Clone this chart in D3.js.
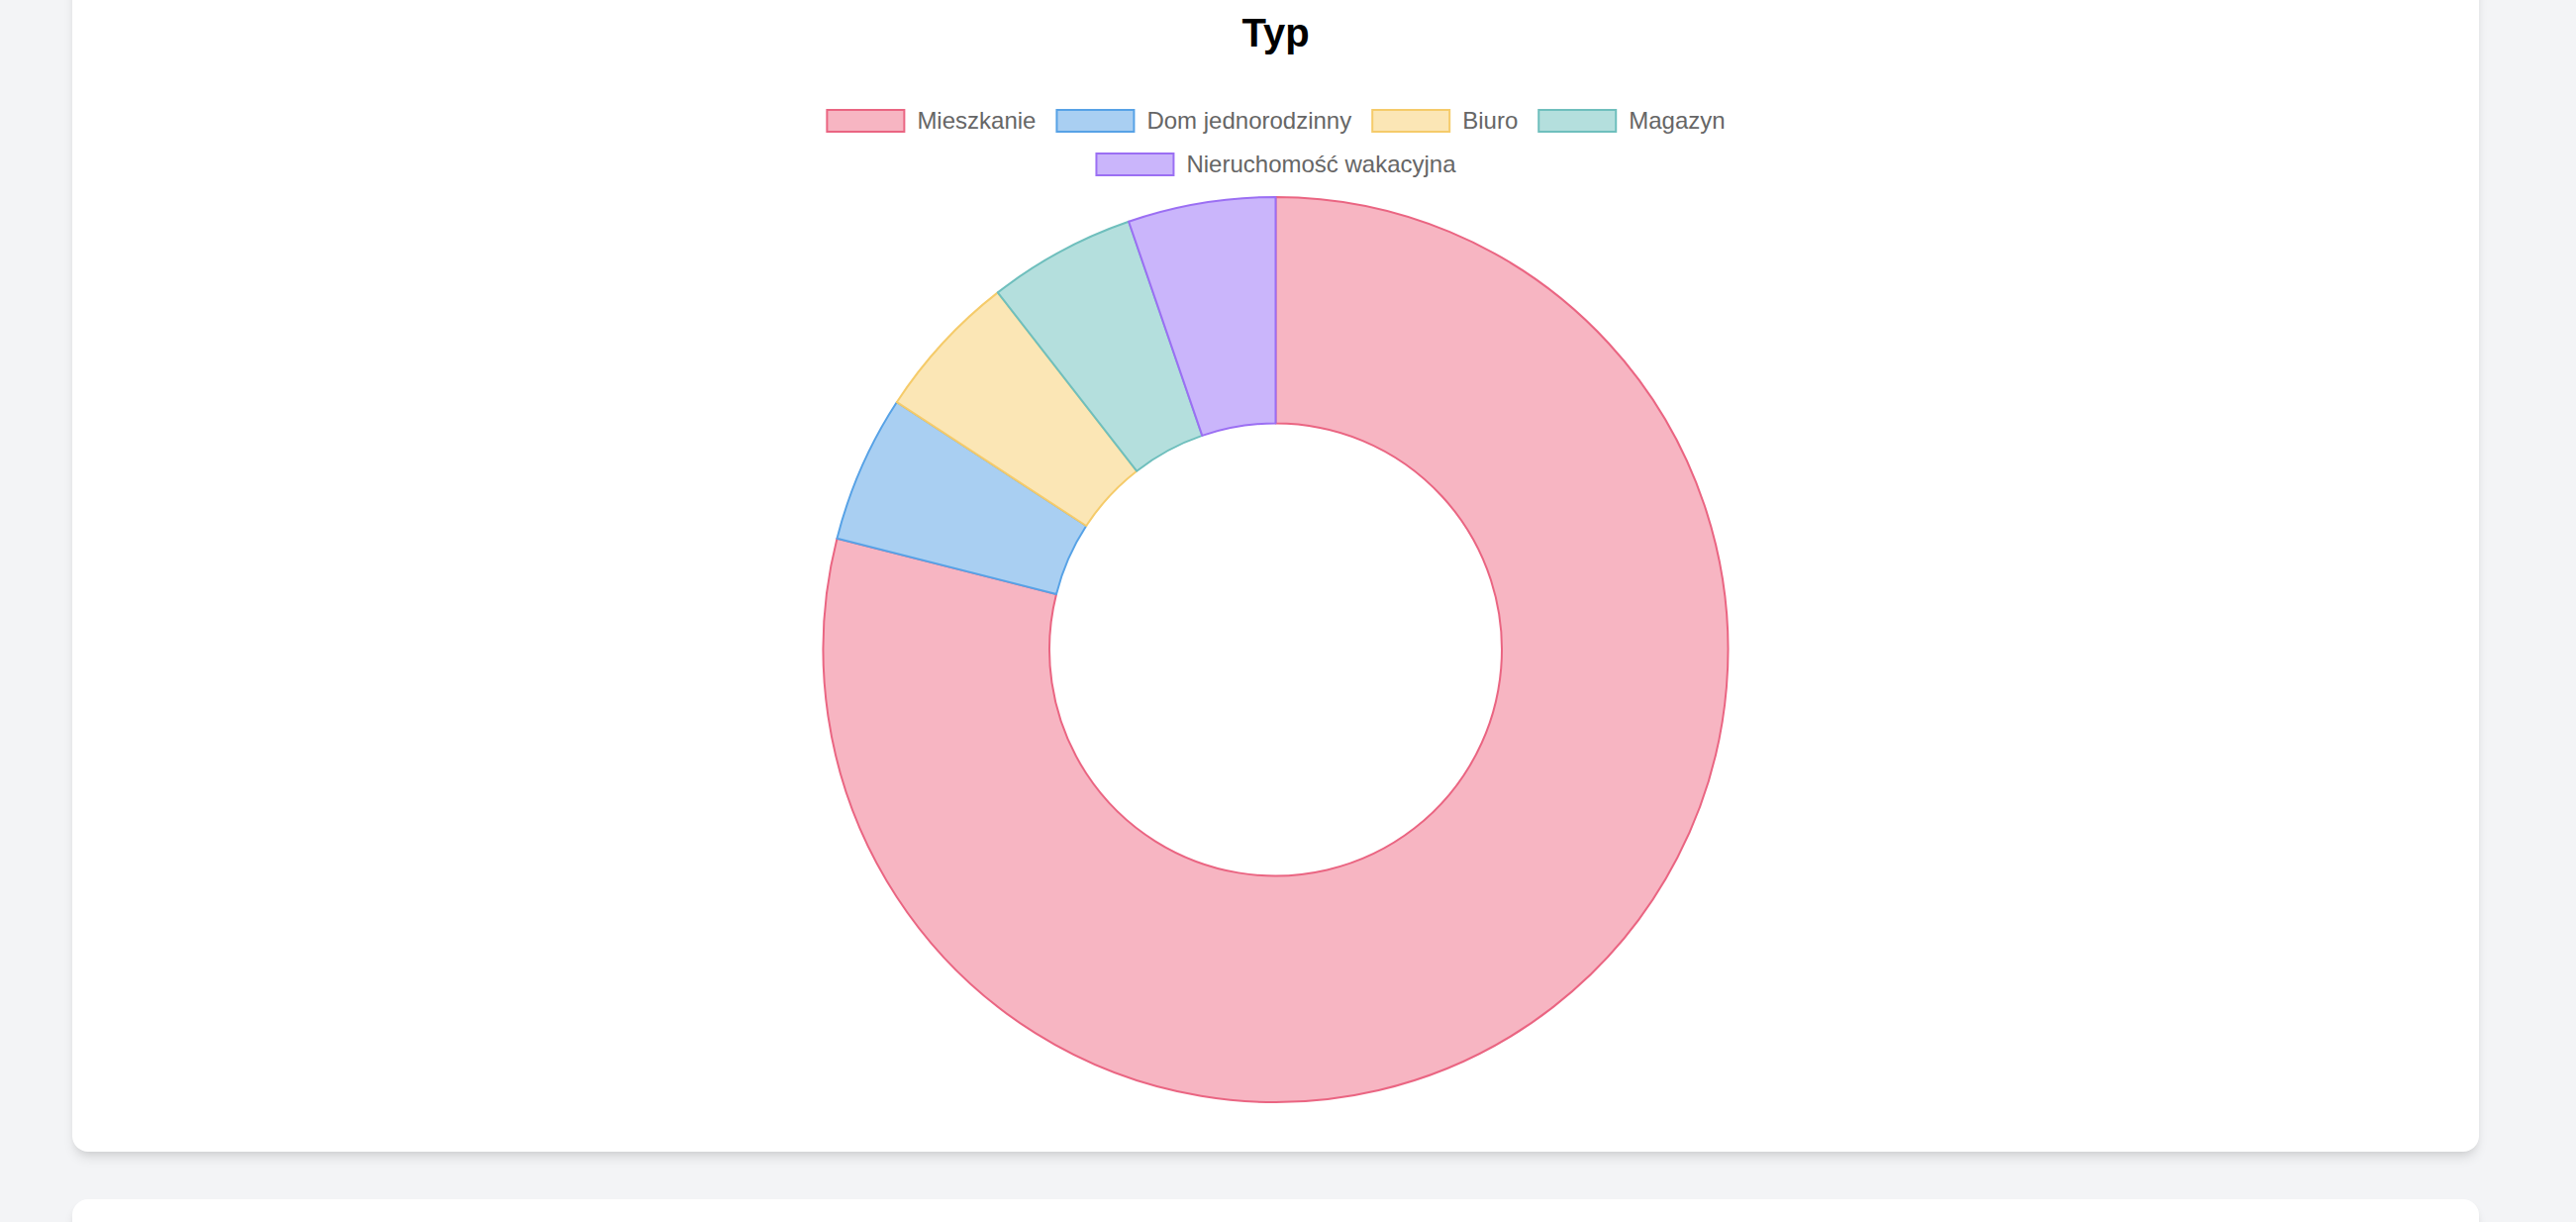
<!DOCTYPE html>
<html>
<head>
<meta charset="utf-8">
<script src="https://cdn.jsdelivr.net/npm/d3@7"></script>
<style>
  html, body { margin: 0; padding: 0; }
  body {
    width: 2602px; height: 1234px; overflow: hidden;
    background: #f3f4f6; position: relative;
    font-family: "Helvetica Neue", Helvetica, Arial, "Liberation Sans", sans-serif;
  }
  .card {
    position: absolute; background: #fff; border-radius: 16px;
    box-shadow: 0 8px 12px -2px rgba(0,0,0,0.1), 0 4px 8px -4px rgba(0,0,0,0.1);
  }
  #chart { position: absolute; left: 0; top: 0; }
</style>
</head>
<body>
<div class="card" style="left:73px; top:-200px; width:2431px; height:1363px;"></div>
<div class="card" style="left:73px; top:1211px; width:2431px; height:400px;"></div>
<div id="chart"></div>
<script>
// data
const labels = ["Mieszkanie", "Dom jednorodzinny", "Biuro", "Magazyn", "Nieruchomość wakacyjna"];
const values = [15, 1, 1, 1, 1];
const borderColors = ["#ea6582", "#57a2e6", "#f5cb6a", "#6fbfbd", "#9b6ff3"];
const fillColors = ["#f7b5c2", "#a9cff2", "#fbe6b5", "#b4dfdd", "#cab5fb"];
const legendRows = [[0, 1, 2, 3], [4]];

const width = 2602, height = 1234;
const cx = 1288.5, cy = 656;
const outerR = 457, innerR = 228.5;
const fontFamily = '"Helvetica Neue", Helvetica, Arial, "Liberation Sans", sans-serif';

let svg = d3.select("#chart")
  .append("svg")
    .attr("width", width)
    .attr("height", height);

// title
svg.append("text")
  .attr("x", cx)
  .attr("y", 47)
  .attr("text-anchor", "middle")
  .attr("font-family", fontFamily)
  .attr("font-size", "40px")
  .attr("font-weight", "bold")
  .attr("fill", "#000")
  .text("Typ");

// donut
const pie = d3.pie().sort(null).value(d => d);
const arc = d3.arc().innerRadius(innerR).outerRadius(outerR);
const color = d3.scaleOrdinal().domain(labels).range(fillColors);
const stroke = d3.scaleOrdinal().domain(labels).range(borderColors);

svg.append("g")
    .attr("transform", `translate(${cx}, ${cy})`)
  .selectAll("path")
  .data(pie(values))
  .join("path")
    .attr("d", arc)
    .attr("fill", (d, i) => color(labels[i]))
    .attr("stroke", (d, i) => stroke(labels[i]))
    .attr("stroke-width", 2)
    .attr("stroke-linejoin", "round");

// legend
const boxW = 80, boxH = 24, fontSize = 24, gap = 12, pad = 20;
const rowTop = [110, 154];
const legend = svg.append("g");

// measure text widths
const measure = legend.append("text")
  .attr("font-family", fontFamily)
  .attr("font-size", fontSize + "px");
const textW = labels.map(l => { measure.text(l); return measure.node().getComputedTextLength(); });
measure.remove();

legendRows.forEach((row, r) => {
  const itemW = row.map(i => boxW + gap + textW[i]);
  const total = d3.sum(itemW) + pad * (row.length - 1);
  let x = cx - total / 2;
  row.forEach((i, k) => {
    const g = legend.append("g").attr("transform", `translate(${x}, ${rowTop[r]})`);
    g.append("rect")
      .attr("x", 1).attr("y", 1)
      .attr("width", boxW - 2).attr("height", boxH - 2)
      .attr("fill", fillColors[i])
      .attr("stroke", borderColors[i])
      .attr("stroke-width", 2);
    g.append("text")
      .attr("x", boxW + gap)
      .attr("y", boxH / 2)
      .attr("dy", "0.35em")
      .attr("font-family", fontFamily)
      .attr("font-size", fontSize + "px")
      .attr("fill", "#666")
      .text(labels[i]);
    x += itemW[k] + pad;
  });
});
</script>
</body>
</html>
